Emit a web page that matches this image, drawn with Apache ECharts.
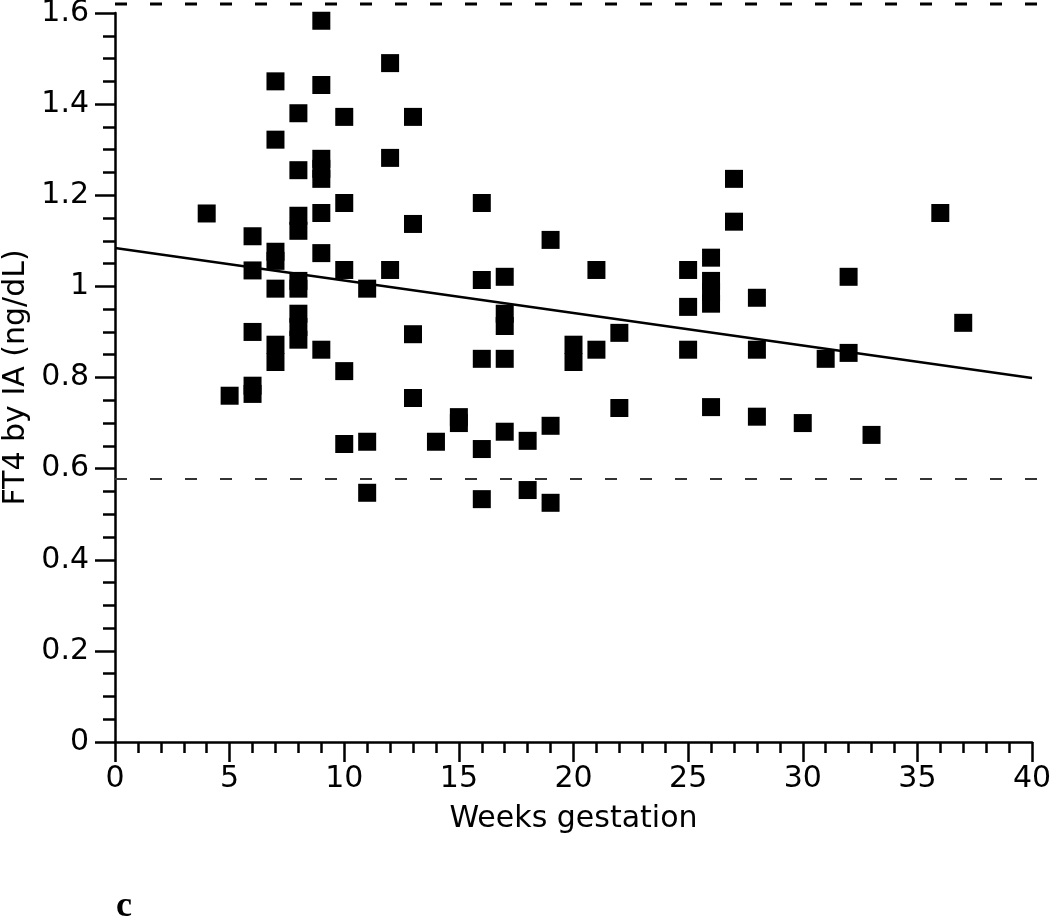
<!DOCTYPE html>
<html>
<head>
<meta charset="utf-8">
<script src="https://cdn.jsdelivr.net/npm/echarts@6/dist/echarts.min.js"></script>
<style>
html,body{margin:0;padding:0;background:#fff;}
#chart{width:1050px;height:919px;}
</style>
</head>
<body>
<div id="chart"></div>
<script>
// Weeks of gestation (x) and FT4 by IA in ng/dL (y), one entry per measured point
const weeks = [
  4,
  5,
  6, 6, 6, 6, 6,
  7, 7, 7, 7, 7, 7, 7,
  8, 8, 8, 8, 8, 8, 8, 8, 8,
  9, 9, 9, 9, 9, 9, 9, 9,
  10, 10, 10, 10, 10,
  11, 11, 11,
  12, 12, 12,
  13, 13, 13, 13,
  14,
  15, 15,
  16, 16, 16, 16, 16,
  17, 17, 17, 17, 17,
  18, 18,
  19, 19, 19,
  20, 20,
  21, 21,
  22, 22,
  25, 25, 25,
  26, 26, 26, 26, 26,
  27, 27,
  28, 28, 28,
  30,
  31,
  32, 32,
  33,
  36,
  37
];
const ft4 = [
  1.16,
  0.76,
  1.11, 1.035, 0.90, 0.782, 0.764,
  1.45, 1.322, 1.076, 1.056, 0.995, 0.872, 0.834,
  1.38, 1.255, 1.155, 1.122, 1.012, 0.995, 0.94, 0.911, 0.883,
  1.583, 1.442, 1.28, 1.258, 1.236, 1.161, 1.073, 0.861,
  1.372, 1.183, 1.036, 0.814, 0.654,
  0.995, 0.659, 0.547,
  1.49, 1.282, 1.036,
  1.372, 1.137, 0.895, 0.755,
  0.659,
  0.713, 0.700,
  1.183, 1.014, 0.841, 0.643, 0.533,
  1.021, 0.94, 0.913, 0.841, 0.681,
  0.661, 0.553,
  1.102, 0.694, 0.525,
  0.872, 0.834,
  1.036, 0.861,
  0.898, 0.733,
  1.036, 0.955, 0.861,
  1.063, 1.012, 0.988, 0.962, 0.735,
  1.236, 1.142,
  0.975, 0.861, 0.714,
  0.70,
  0.841,
  1.021, 0.854,
  0.674,
  1.161,
  0.92
];
// Regression line end points
const regressionX = [0, 40];
const regressionY = [1.084, 0.799];
// Reference-range dashed lines (ng/dL) and their extent in weeks
const refUpper = 1.62;
const refLower = 0.577;
const refUpperEnd = 40.78;
const refLowerEnd = 40.26;
// Axis ticks
const xTicks = [0, 5, 10, 15, 20, 25, 30, 35, 40];
const yTicks = [0, 0.2, 0.4, 0.6, 0.8, 1, 1.2, 1.4, 1.6];
const xTitle = 'Weeks gestation';
const yTitle = 'FT4 by IA (ng/dL)';
const panelLabel = 'c';

const scatterData = weeks.map((w, i) => [w, ft4[i]]);
const regData = regressionX.map((x, i) => [x, regressionY[i]]);

const FONT = 'DejaVu Sans';
const chart = echarts.init(document.getElementById('chart'), null, {renderer: 'canvas'});
chart.setOption({
  backgroundColor: '#ffffff',
  animation: false,
  title: {
    text: panelLabel,
    left: 111,
    top: 884,
    textStyle: {fontFamily: 'Liberation Serif', fontWeight: 'bold', fontSize: 36, color: '#000'}
  },
  grid: [
    {left: 115, right: 18, top: 13, bottom: 177, containLabel: false, outerBoundsMode: 'none'},
    {left: 115, right: 0, top: 0, bottom: 177, containLabel: false, outerBoundsMode: 'none'}
  ],
  xAxis: [
    {
      type: 'value', gridIndex: 0,
      min: xTicks[0], max: xTicks[xTicks.length - 1], interval: 5,
      name: xTitle, nameLocation: 'middle', nameGap: 62, nameMoveOverlap: false,
      nameTextStyle: {fontFamily: FONT, fontSize: 30, color: '#000'},
      axisLine: {show: true, onZero: false, lineStyle: {color: '#000', width: 2.5}},
      axisTick: {show: true, length: 20, lineStyle: {color: '#000', width: 2.5}},
      minorTick: {show: true, splitNumber: 5, length: 11, lineStyle: {color: '#000', width: 2.5}},
      axisLabel: {fontFamily: FONT, fontSize: 30, color: '#000', margin: 22},
      splitLine: {show: false}
    },
    {
      type: 'value', gridIndex: 1, min: 0, max: refUpperEnd, show: false
    }
  ],
  yAxis: [
    {
      type: 'value', gridIndex: 0,
      min: yTicks[0], max: yTicks[yTicks.length - 1], interval: 0.2,
      name: yTitle, nameLocation: 'middle', nameGap: 84, nameRotate: 90, nameMoveOverlap: false,
      nameTextStyle: {fontFamily: FONT, fontSize: 30, color: '#000'},
      axisLine: {show: true, onZero: false, lineStyle: {color: '#000', width: 2.5}},
      axisTick: {show: true, length: 20, lineStyle: {color: '#000', width: 2.5}},
      minorTick: {show: true, splitNumber: 4, length: 12, lineStyle: {color: '#000', width: 2.5}},
      axisLabel: {fontFamily: FONT, fontSize: 30, color: '#000', margin: 26,
        formatter: v => String(Math.round(v * 10) / 10)},
      splitLine: {show: false}
    },
    {
      type: 'value', gridIndex: 1, min: 0, max: 1.6 * 742 / 729, show: false
    }
  ],
  series: [
    {
      type: 'line', xAxisIndex: 1, yAxisIndex: 1,
      data: [[0, refUpper], [refUpperEnd, refUpper]],
      symbol: 'none', silent: true,
      lineStyle: {color: '#000', width: 3, type: [12, 23]}
    },
    {
      type: 'line', xAxisIndex: 1, yAxisIndex: 1,
      data: [[0, refLower], [refLowerEnd, refLower]],
      symbol: 'none', silent: true,
      lineStyle: {color: '#333', width: 2, type: [12, 23]}
    },
    {
      type: 'line', xAxisIndex: 0, yAxisIndex: 0,
      data: regData, symbol: 'none', silent: true,
      lineStyle: {color: '#000', width: 2.5}
    },
    {
      type: 'scatter', xAxisIndex: 0, yAxisIndex: 0,
      data: scatterData, symbol: 'rect', symbolSize: 18,
      itemStyle: {color: '#000', opacity: 1}
    }
  ]
});
</script>
</body>
</html>
